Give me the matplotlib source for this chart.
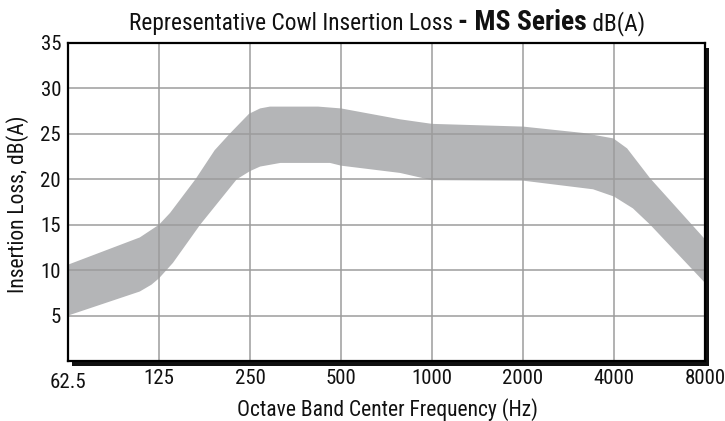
import matplotlib
matplotlib.use("Agg")
import matplotlib.pyplot as plt
from matplotlib.patches import Rectangle
from matplotlib.transforms import ScaledTranslation
from matplotlib import font_manager

# ---- data ----
upper_freq = [62.5, 108, 125, 136, 165, 191, 214, 248, 270, 291, 420, 500, 784, 1000, 2000, 3160, 3980, 4420, 5270, 8000]
upper_db   = [10.6, 13.6, 15.0, 16.3, 20.0, 23.2, 25.0, 27.2, 27.8, 28.0, 28.0, 27.8, 26.6, 26.1, 25.8, 25.1, 24.5, 23.4, 20.1, 13.4]
lower_freq = [62.5, 108, 118, 125, 139, 171, 226, 250, 270, 315, 460, 500, 784, 1000, 2000, 3410, 4000, 4620, 5270, 8000]
lower_db   = [5.0, 7.65, 8.4, 9.1, 10.8, 15.0, 20.0, 20.9, 21.4, 21.8, 21.8, 21.5, 20.7, 19.9, 19.85, 18.9, 18.1, 16.8, 15.0, 8.6]
x_ticks = [62.5, 125, 250, 500, 1000, 2000, 4000, 8000]
x_tick_labels = ["62.5", "125", "250", "500", "1000", "2000", "4000", "8000"]
y_ticks = [5, 10, 15, 20, 25, 30, 35]

avail = {f.name for f in font_manager.fontManager.ttflist}
FONT = "DejaVu Sans"
for cand in ["Nimbus Sans Narrow", "Liberation Sans Narrow", "Roboto Condensed", "Archivo Narrow"]:
    if cand in avail:
        FONT = cand
        break
plt.rcParams["font.family"] = [FONT, "DejaVu Sans"]

W, H = 725, 421
fig = plt.figure(figsize=(W / 100, H / 100), dpi=100)
L, R, B, T = 68, 705, 421 - 361, 421 - 43
ax = fig.add_axes([L / W, B / H, (R - L) / W, (T - B) / H])

# drop shadow frame
shadow = Rectangle(((L + 4) / W, (B - 5) / H), (R - L) / W, (T - B) / H,
                   transform=fig.transFigure, facecolor="#111111", edgecolor="none", zorder=-1)
fig.patches.append(shadow)

# band
fx = list(upper_freq) + list(reversed(lower_freq))
fy = list(upper_db) + list(reversed(lower_db))
ax.fill(fx, fy, color="#b4b5b7", lw=0, zorder=1)

ax.set_xscale("log", base=2)
ax.set_xlim(62.5, 8000)
ax.set_ylim(0, 35)
ax.set_xticks(x_ticks)
ax.set_xticklabels(x_tick_labels)
ax.minorticks_off()
ax.set_yticks(y_ticks)
ax.tick_params(length=0, labelsize=15, colors="#111111")
ax.tick_params(axis="y", pad=5)
ax.tick_params(axis="x", pad=6)
ax.grid(True, color="#9c9c9c", lw=1.1, zorder=2)
ax.set_axisbelow(False)
for s in ax.spines.values():
    s.set_color("black")
    s.set_linewidth(1.6)
    s.set_zorder(5)

lbls = ax.get_xticklabels()
lbls[0].set_transform(lbls[0].get_transform() + ScaledTranslation(0, -3 / 72, fig.dpi_scale_trans))

fig.text(387 / W, (421 - 416) / H, "Octave Band Center Frequency (Hz)", fontsize=15.5,
         color="#111111", ha="center", va="baseline")
fig.text(18 / W, (421 - 204) / H, "Insertion Loss, dB(A)", fontsize=15.5, rotation=90,
         color="#111111", ha="center", va="center")

# title with mixed styles
fig.canvas.draw()
rend = fig.canvas.get_renderer()
parts = [("Representative Cowl Insertion Loss ", "normal", 16.8),
         ("- MS Series", "bold", 20),
         (" dB(A)", "normal", 16.8)]
texts = []
for s, w, sz in parts:
    t = fig.text(0, 0, s, fontsize=sz, fontweight=w, color="#111111", va="baseline", ha="left")
    texts.append(t)
widths = [t.get_window_extent(rend).width for t in texts]
total = sum(widths)
x0 = 387 - total / 2
base_y = (421 - 30) / H
for t, w in zip(texts, widths):
    t.set_position((x0 / W, base_y))
    x0 += w

fig.savefig("out.png", dpi=100)
